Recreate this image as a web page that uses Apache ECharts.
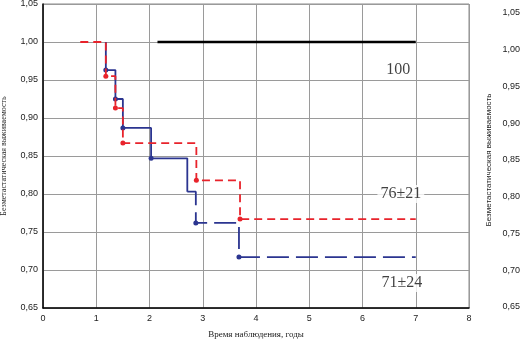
<!DOCTYPE html>
<html>
<head>
<meta charset="utf-8">
<script src="https://cdn.jsdelivr.net/npm/echarts@6/dist/echarts.min.js"></script>
<style>
  html, body { margin: 0; padding: 0; background: #fff; }
  #chart { width: 520px; height: 342px; }
</style>
</head>
<body>
<div id="chart"></div>
<script>
// время наблюдения (годы) и выживаемость по группам
var blackTimes = [2.15, 7.0];
var blackSurv = [1.0, 1.0];
var redTimes = [0.7, 1.18, 1.36, 1.5, 2.88, 3.7, 7.0];
var redSurv = [1.0, 0.955, 0.913, 0.867, 0.818, 0.767, 0.767];
var blueTimesA = [1.18, 1.18, 1.36, 1.5, 2.03, 2.71];
var blueSurvA = [1.0, 0.963, 0.925, 0.887, 0.847, 0.803];
var blueTimesB = [2.71, 2.87, 3.68, 7.0];
var blueSurvB = [0.803, 0.762, 0.717, 0.717];
var xTicks = [0, 1, 2, 3, 4, 5, 6, 7, 8];
var labels = ['100', '76±21', '71±24'];
var labelPos = [[6.67, 0.963], [6.72, 0.80], [6.74, 0.683]];

function pairs(xs, ys) {
  return xs.map(function (x, i) { return [x, ys[i]]; });
}
// точки на изломах, без первой и последней
function kmData(xs, ys, dots) {
  return xs.map(function (x, i) {
    var showDot = dots && i > 0 && i < xs.length - 1;
    return { value: [x, ys[i]], symbol: showDot ? 'circle' : 'none' };
  });
}
function comma(v) { return v.toFixed(2).replace('.', ','); }

var chart = echarts.init(document.getElementById('chart'));
var option = {
  animation: false,
  grid: [
    { left: 43, right: 51, top: 4, bottom: 34, show: true, borderColor: '#8a8a8a', borderWidth: 1,
      containLabel: false, outerBoundsMode: 'none' },
    { left: 526, width: 100, top: 13, bottom: 35, containLabel: false, outerBoundsMode: 'none' }
  ],
  xAxis: [
    {
      gridIndex: 0, type: 'value', min: 0, max: 8, interval: 1,
      name: 'Время наблюдения, годы', nameLocation: 'middle', nameGap: 22,
      nameTextStyle: { fontFamily: 'Liberation Serif', fontSize: 9, color: '#222' },
      axisLine: { lineStyle: { color: '#000', width: 1.5 } },
      axisTick: { show: false },
      axisLabel: { fontFamily: 'Liberation Sans', fontSize: 9, color: '#222', margin: 6,
        formatter: function (v) { return xTicks.indexOf(v) >= 0 ? String(v) : ''; } },
      splitLine: { lineStyle: { color: '#9a9a9a', width: 1 } }
    },
    { gridIndex: 1, type: 'value', show: false, min: 0, max: 8 }
  ],
  yAxis: [
    {
      gridIndex: 0, type: 'value', min: 0.65, max: 1.05, interval: 0.05,
      name: 'Безметастатическая выживаемость', nameLocation: 'middle', nameGap: 35,
      nameTextStyle: { fontFamily: 'Liberation Serif', fontSize: 8, color: '#222' },
      axisLine: { show: true, lineStyle: { color: '#000', width: 1.5 } },
      axisTick: { show: false },
      axisLabel: { fontFamily: 'Liberation Sans', fontSize: 9, color: '#222', margin: 5, formatter: comma },
      splitLine: { lineStyle: { color: '#9a9a9a', width: 1 } }
    },
    {
      gridIndex: 1, type: 'value', min: 0.65, max: 1.05, interval: 0.05,
      name: 'Безметастатическая выживаемость', nameLocation: 'middle', nameGap: 33,
      nameTextStyle: { fontFamily: 'Liberation Sans', fontSize: 8, color: '#222' },
      axisLine: { show: false }, axisTick: { show: false }, splitLine: { show: false },
      axisLabel: { fontFamily: 'Liberation Sans', fontSize: 9, color: '#222', margin: 6, formatter: comma }
    }
  ],
  series: [
    {
      name: 'black', type: 'line', data: pairs(blackTimes, blackSurv), symbol: 'none',
      lineStyle: { color: '#000', width: 2.5 }, z: 3
    },
    {
      name: 'red', type: 'line', step: 'end', data: kmData(redTimes, redSurv, true),
      symbolSize: 5, itemStyle: { color: '#e8232b' },
      lineStyle: { color: '#e8232b', width: 1.8, type: [8, 5] }, z: 4
    },
    {
      name: 'blueA', type: 'line', step: 'end', data: kmData(blueTimesA, blueSurvA, true),
      symbolSize: 5, itemStyle: { color: '#2b3590' },
      lineStyle: { color: '#2b3590', width: 1.8 }, z: 3
    },
    {
      name: 'blueB', type: 'line', step: 'end', data: kmData(blueTimesB, blueSurvB, true),
      symbolSize: 5, itemStyle: { color: '#2b3590' },
      lineStyle: { color: '#2b3590', width: 1.8, type: [22, 7] }, z: 3
    },
    {
      name: 'labels', type: 'scatter', symbolSize: 0,
      data: labelPos.map(function (p, i) { return { value: p, name: labels[i] }; }),
      label: {
        show: true, position: 'inside', formatter: '{b}',
        fontFamily: 'Liberation Serif', fontSize: 16, color: '#111',
        backgroundColor: '#fff', padding: [1, 3]
      },
      z: 5
    }
  ]
};
chart.setOption(option);
</script>
</body>
</html>
